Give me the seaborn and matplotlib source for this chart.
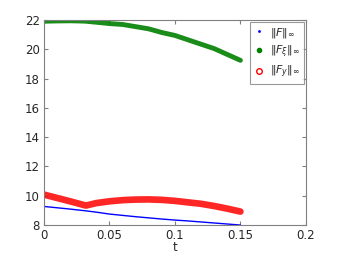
import matplotlib
matplotlib.use("Agg")
import matplotlib.pyplot as plt
import seaborn as sns
import pandas as pd
from matplotlib.lines import Line2D

t = [0, 0.01, 0.02, 0.03, 0.032, 0.04, 0.05, 0.06, 0.07, 0.08, 0.09, 0.10, 0.11, 0.12, 0.13, 0.14, 0.15]
F_inf = [9.27, 9.18, 9.09, 8.99, 8.97, 8.88, 8.75, 8.66, 8.57, 8.49, 8.41, 8.34, 8.28, 8.21, 8.14, 8.07, 8.0]
F_xi = [21.92, 21.94, 21.95, 21.93, 21.92, 21.85, 21.76, 21.70, 21.55, 21.40, 21.15, 20.95, 20.65, 20.35, 20.05, 19.65, 19.25]
F_y = [10.08, 9.85, 9.62, 9.38, 9.33, 9.50, 9.62, 9.70, 9.74, 9.75, 9.72, 9.65, 9.55, 9.45, 9.30, 9.12, 8.92]
labels = [r'$\|F\|_\infty$', r'$\|F_\xi\|_\infty$', r'$\|F_y\|_\infty$']
colors = ['#0000ff', '#008000', '#ff0000']

sns.set_style("white")
plt.rcParams['font.family'] = ['DejaVu Sans']
plt.rcParams['mathtext.fontset'] = 'dejavusans'

df = pd.DataFrame({'t': t, 'a': F_inf, 'b': F_xi, 'c': F_y})

fig = plt.figure(figsize=(3.38, 2.54), dpi=100)
ax = fig.add_axes([0.130, 0.114, 0.775, 0.807])

sns.lineplot(data=df, x='t', y='a', ax=ax, color=colors[0], linewidth=1.0)
sns.lineplot(data=df, x='t', y='b', ax=ax, color=colors[1], linewidth=3.5, alpha=0.9)
sns.lineplot(data=df, x='t', y='c', ax=ax, color=colors[2], linewidth=4.8, alpha=0.85)

ax.set_xlim(0, 0.2)
ax.set_ylim(8, 22)
ax.set_xticks([0, 0.05, 0.1, 0.15, 0.2])
ax.set_xticklabels(['0', '0.05', '0.1', '0.15', '0.2'])
ax.set_yticks([8, 10, 12, 14, 16, 18, 20, 22])
ax.set_xlabel('t', fontsize=8.5, labelpad=-1)
ax.set_ylabel('')
ax.tick_params(direction='in', length=3, labelsize=8.5, top=True, right=True,
               bottom=True, left=True, color='#808080', pad=3)
for s in ax.spines.values():
    s.set_color('#808080')
    s.set_linewidth(0.8)

handles = [
    Line2D([], [], linestyle='none', marker='.', markersize=2, color=colors[0]),
    Line2D([], [], linestyle='none', marker='o', markersize=3, color=colors[1]),
    Line2D([], [], linestyle='none', marker='o', markersize=4, markerfacecolor='white',
           markeredgecolor=colors[2]),
]
leg = ax.legend(handles, labels, loc='upper right', fontsize=8, frameon=True,
                fancybox=False, borderaxespad=0.2, handlelength=1.0,
                handletextpad=0.5, labelspacing=0.35, borderpad=0.3)
leg.get_frame().set_edgecolor('#808080')
leg.get_frame().set_linewidth(0.8)

fig.savefig('out.png', dpi=100)
